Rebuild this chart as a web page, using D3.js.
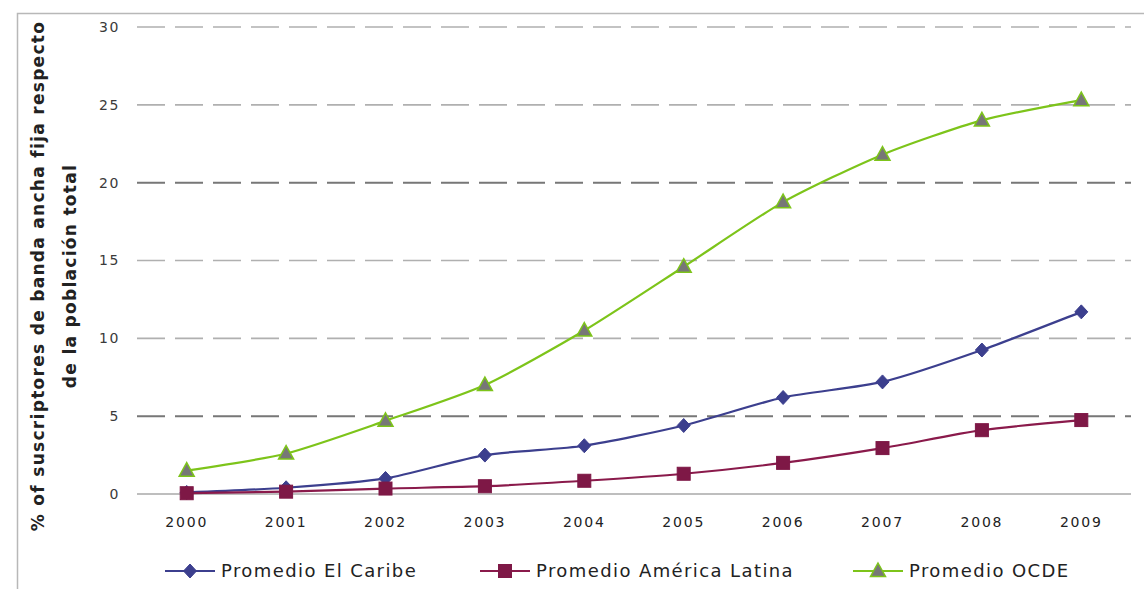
<!DOCTYPE html>
<html>
<head>
<meta charset="utf-8">
<script src="https://cdn.jsdelivr.net/npm/d3@7/dist/d3.min.js"></script>
<style>
  html, body { margin: 0; padding: 0; background: #fff; }
  svg { display: block; }
  text { font-family: "DejaVu Sans", "Open Sans", sans-serif; }
</style>
</head>
<body>
<svg id="chart" width="1144" height="589"></svg>
<script>
// Broadband subscribers per 100 inhabitants, 2000–2009
const years = ["2000", "2001", "2002", "2003", "2004", "2005", "2006", "2007", "2008", "2009"];
const caribe = [0.1, 0.4, 1.0, 2.5, 3.1, 4.4, 6.2, 7.2, 9.25, 11.7];
const americaLatina = [0.05, 0.15, 0.35, 0.5, 0.85, 1.3, 2.0, 2.95, 4.1, 4.75];
const ocde = [1.5, 2.6, 4.7, 7.0, 10.5, 14.6, 18.75, 21.8, 24.0, 25.3];
const yTicks = [0, 5, 10, 15, 20, 25, 30];
const seriesNames = ["Promedio El Caribe", "Promedio América Latina", "Promedio OCDE"];

const svg = d3.select("#chart");
const plot = { left: 137, right: 1131, top: 27, bottom: 494 };

// outer frame (top and left edges)
svg.append("path")
  .attr("d", "M17.5,589 V13.5 H1144")
  .attr("fill", "none").attr("stroke", "#b8b8b8").attr("stroke-width", 1.5);

const x = d3.scaleBand().domain(years).range([plot.left, plot.right]);
const y = d3.scaleLinear().domain([0, 30]).range([plot.bottom, plot.top]);
const cx = d => x(d) + x.bandwidth() / 2;

// horizontal gridlines
svg.append("g").selectAll("line")
  .data(yTicks.filter(t => t > 0))
  .join("line")
  .attr("x1", plot.left).attr("x2", plot.right)
  .attr("y1", d => y(d)).attr("y2", d => y(d))
  .attr("stroke", d => (d === 5 || d === 20) ? "#777" : "#b0b0b0")
  .attr("stroke-width", d => (d === 5 || d === 20) ? 2 : 1.6)
  .attr("stroke-dasharray", "28,10");

// baseline
svg.append("line")
  .attr("x1", plot.left).attr("x2", plot.right)
  .attr("y1", y(0)).attr("y2", y(0))
  .attr("stroke", "#a8a8a8").attr("stroke-width", 1.5);

// y axis labels
const yAxis = d3.axisLeft(y).tickValues(yTicks).tickSize(0).tickPadding(0);
const gy = svg.append("g").attr("transform", "translate(120,0)").call(yAxis);
gy.select(".domain").remove();
gy.selectAll("text")
  .attr("font-size", 14).attr("fill", "#3a3a3a").attr("letter-spacing", 1.6)
  .style("font-family", "'DejaVu Sans', sans-serif");

// x axis labels
const xAxis = d3.axisBottom(x).tickSize(0).tickPadding(0);
const gx = svg.append("g").attr("transform", "translate(0,517)").call(xAxis);
gx.select(".domain").remove();
gx.selectAll("text")
  .attr("font-size", 14).attr("fill", "#222").attr("letter-spacing", 1.8)
  .style("font-family", "'DejaVu Sans', sans-serif");

// y axis title
const title = svg.append("text")
  .attr("transform", "translate(0,276) rotate(-90)")
  .attr("text-anchor", "middle")
  .attr("font-weight", "bold").attr("font-size", 17).attr("letter-spacing", 1.3)
  .attr("fill", "#222");
title.append("tspan").attr("x", 0).attr("y", 44).text("% of suscriptores de banda ancha fija respecto");
title.append("tspan").attr("x", 0).attr("y", 76).text("de la población total");

const line = d3.line()
  .x((d, i) => cx(years[i]))
  .y(d => y(d))
  .curve(d3.curveCardinal.tension(0.3));

const series = [
  { name: seriesNames[0], values: caribe, color: "#3c3f8e", marker: "diamond" },
  { name: seriesNames[1], values: americaLatina, color: "#8a1a4b", marker: "square" },
  { name: seriesNames[2], values: ocde, color: "#7dc41a", marker: "triangle" }
];

function drawMarker(g, type, px, py) {
  if (type === "diamond") {
    g.append("path")
      .attr("d", `M${px},${py - 7} L${px + 6.5},${py} L${px},${py + 7} L${px - 6.5},${py} Z`)
      .attr("fill", "#3c3f8e").attr("stroke", "#3c3f8e").attr("stroke-width", 1);
  } else if (type === "square") {
    g.append("rect")
      .attr("x", px - 6.5).attr("y", py - 6.5).attr("width", 13).attr("height", 13)
      .attr("fill", "#7e1846").attr("stroke", "#7e1846").attr("stroke-width", 1);
  } else {
    g.append("path")
      .attr("d", `M${px},${py - 8} L${px + 7.5},${py + 5.5} L${px - 7.5},${py + 5.5} Z`)
      .attr("fill", "#777").attr("stroke", "#7dc41a").attr("stroke-width", 1.5);
  }
}

// draw lines first, then markers on top
series.forEach(s => {
  svg.append("path")
    .datum(s.values)
    .attr("d", line)
    .attr("fill", "none")
    .attr("stroke", s.color)
    .attr("stroke-width", 2.2);
});
series.forEach(s => {
  const g = svg.append("g");
  s.values.forEach((v, i) => drawMarker(g, s.marker, cx(years[i]), y(v)));
});

// legend
const legendX = [165, 480, 853];
const legendY = 571;
series.forEach((s, i) => {
  const g = svg.append("g").attr("transform", `translate(${legendX[i]},${legendY})`);
  g.append("line").attr("x1", 0).attr("x2", 50).attr("y1", 0).attr("y2", 0)
    .attr("stroke", s.color).attr("stroke-width", 2.2);
  drawMarker(g, s.marker, 25, 0);
  g.append("text")
    .attr("x", 56).attr("y", 0).attr("dy", "0.35em")
    .attr("font-size", 18).attr("fill", "#222").attr("letter-spacing", 1.4)
    .text(s.name);
});
</script>
</body>
</html>
